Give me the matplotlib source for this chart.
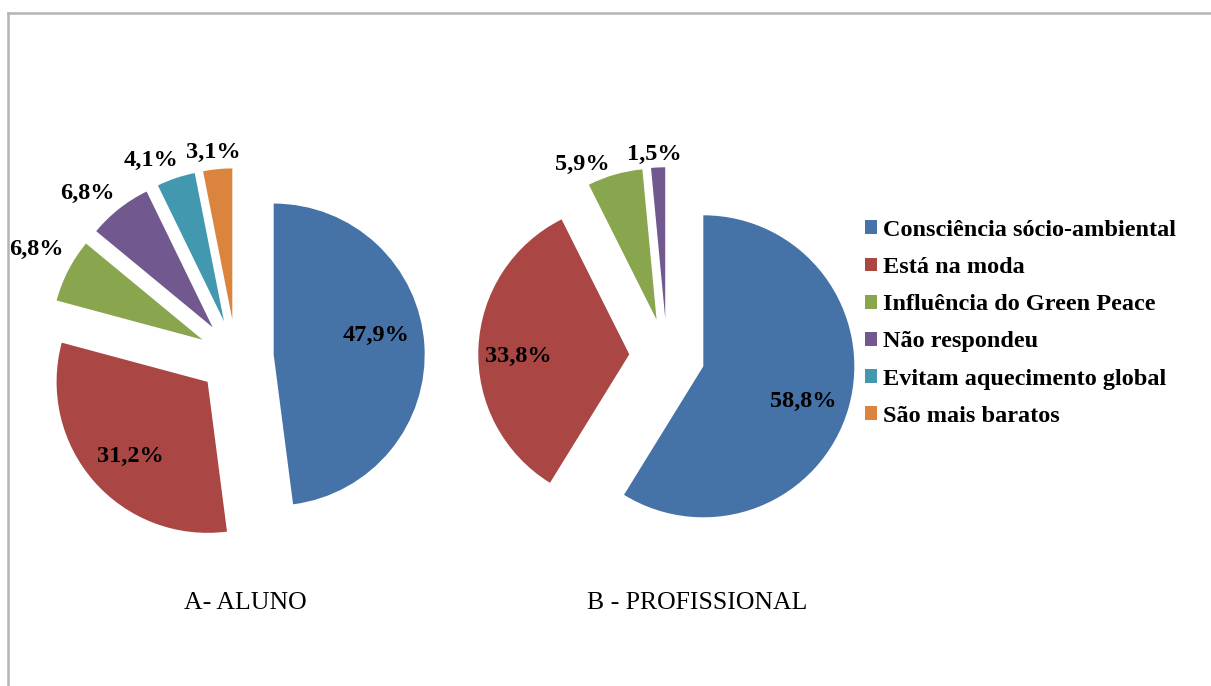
import numpy as np
import matplotlib
matplotlib.use("Agg")
import matplotlib.pyplot as plt
from matplotlib.lines import Line2D
from matplotlib.patches import Patch

# Survey answers (percent of respondents)
categories = [
    "Consciência sócio-ambiental",
    "Está na moda",
    "Influência do Green Peace",
    "Não respondeu",
    "Evitam aquecimento global",
    "São mais baratos",
]
aluno_values = [47.9, 31.2, 6.8, 6.8, 4.1, 3.1]
profissional_values = [58.8, 33.8, 5.9, 1.5]
titles = ["A- ALUNO", "B - PROFISSIONAL"]

colors = ["#4572A7", "#AA4643", "#89A54E", "#71588F", "#4198AF", "#DB843D"]

# label placement: distance from wedge apex (in radii) and angular shift (deg)
aluno_label_dist = [0.69, 0.71, 1.25, 1.215, 1.17, 1.11]
aluno_label_shift = [6.6, 3.0, -1.3, 5.0, 5.8, 1.0]
prof_label_dist = [0.70, 0.735, 1.14, 1.09]
prof_label_shift = [-3.7, 3.5, 9.5, 1.0]

W, H = 1211, 686
R = 151.0      # pie radius in pixels
HALF = 1.6     # half-extent of each pie axes in radii

plt.rcParams["font.family"] = ["Liberation Serif", "DejaVu Serif"]

fig = plt.figure(figsize=(W / 100, H / 100), dpi=100)
fig.patch.set_facecolor("white")


def pie_axes(cx, cy):
    ax = fig.add_axes([(cx - HALF * R) / W, (H - cy - HALF * R) / H,
                       2 * HALF * R / W, 2 * HALF * R / H])
    return ax


def draw_pie(ax, values, dists, shifts):
    wedges, _ = ax.pie(values, colors=colors[:len(values)],
                       explode=[0.25] * len(values), startangle=90,
                       counterclock=False, radius=1.0,
                       wedgeprops=dict(linewidth=0))
    for w, v, d, s in zip(wedges, values, dists, shifts):
        mid = np.deg2rad(0.5 * (w.theta1 + w.theta2) + s)
        x = w.center[0] + d * np.cos(mid)
        y = w.center[1] + d * np.sin(mid)
        ax.text(x, y, f"{v:.1f}%".replace(".", ","), ha="center",
                va="center", fontsize=17.5, fontweight="bold", color="black")
    ax.set_xlim(-HALF, HALF)
    ax.set_ylim(-HALF, HALF)
    ax.set_aspect("auto")
    ax.axis("off")
    return wedges


ax1 = pie_axes(236, 357)
draw_pie(ax1, aluno_values, aluno_label_dist, aluno_label_shift)
ax2 = pie_axes(667, 356)
draw_pie(ax2, profissional_values, prof_label_dist, prof_label_shift)

# captions under each pie
fig.text(245 / W, (H - 603) / H, titles[0], ha="center", va="center",
         fontsize=18.5)
fig.text(697 / W, (H - 603) / H, titles[1], ha="center", va="center",
         fontsize=18.5)

# legend
handles = [Patch(facecolor=c, edgecolor="none") for c in colors]
fig.legend(handles, categories, loc="upper left",
           bbox_to_anchor=(865 / W, (H - 220) / H),
           frameon=False, handlelength=0.5, handleheight=0.5,
           handletextpad=0.25, labelspacing=0.665, borderaxespad=0,
           borderpad=0,
           prop=dict(family="Liberation Serif", size=17.5, weight="bold"))

# outer frame (top and left edges)
gray = "#B4B4B4"
fig.add_artist(Line2D([8 / W, 1.0], [(H - 13) / H, (H - 13) / H],
                      color=gray, linewidth=1.8))
fig.add_artist(Line2D([8 / W, 8 / W], [0.0, (H - 13) / H],
                      color=gray, linewidth=1.8))

fig.savefig("out.png", dpi=100, facecolor="white")
